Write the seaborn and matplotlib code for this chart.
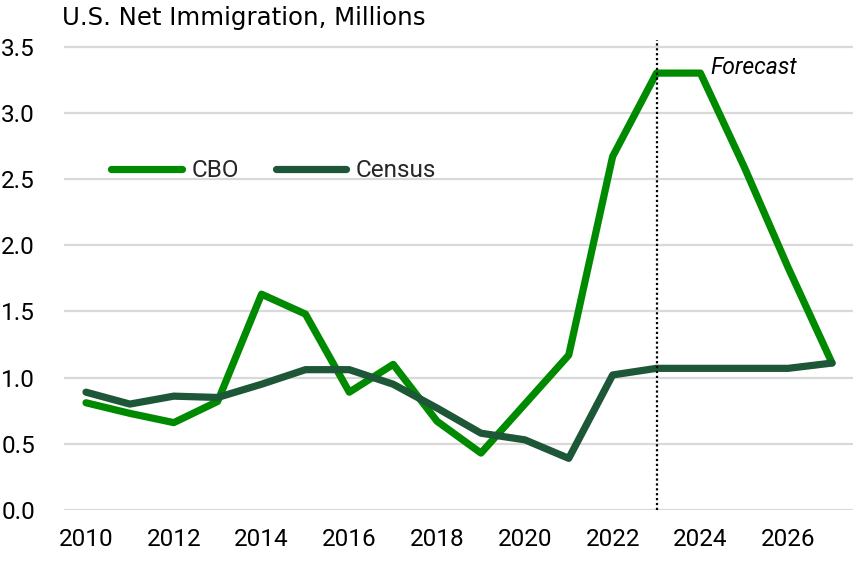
import matplotlib
matplotlib.use("Agg")
import matplotlib.pyplot as plt
import seaborn as sns
import pandas as pd

years = list(range(2010, 2028))
cbo = [0.81, 0.73, 0.66, 0.82, 1.63, 1.48, 0.89, 1.10, 0.67, 0.43, 0.80, 1.17, 2.67, 3.30, 3.30, 2.59, 1.83, 1.11]
census = [0.89, 0.80, 0.86, 0.85, 0.95, 1.06, 1.06, 0.95, 0.77, 0.58, 0.53, 0.39, 1.02, 1.07, 1.07, 1.07, 1.07, 1.11]
series_names = ["CBO", "Census"]
colors = {"CBO": "#008A00", "Census": "#1E5638"}
title = "U.S. Net Immigration, Millions"
forecast_year = 2023
forecast_label = "Forecast"
yticks = [0.0, 0.5, 1.0, 1.5, 2.0, 2.5, 3.0, 3.5]
xticks = list(range(2010, 2027, 2))

df = pd.DataFrame({
    "year": years * 2,
    "value": cbo + census,
    "series": ["CBO"] * len(years) + ["Census"] * len(years),
})

sns.set_theme(style="white")
plt.rcParams["font.family"] = ["Roboto", "DejaVu Sans"]

fig = plt.figure(figsize=(8.54, 5.61), dpi=100)
ax = fig.add_axes([0.075, 0.0909, 0.925, 0.8378])

for y in yticks:
    ax.axhline(y, color="#D9D9D9", lw=1.6, zorder=0)

sns.lineplot(data=df, x="year", y="value", hue="series", hue_order=series_names,
             palette=colors, linewidth=5.2, ax=ax, legend=True, zorder=3)
for line in ax.get_lines():
    line.set_solid_capstyle("round")
    line.set_solid_joinstyle("round")

ax.axvline(forecast_year, color="black", lw=1.6, ls=(0, (1, 1.2)), zorder=4)
ax.text(forecast_year + 1.22, 3.34, forecast_label, fontstyle="italic", fontsize=16.5,
        ha="left", va="center", color="black")

ax.set_xlim(2009.5, 2027.5)
ax.set_ylim(0, 3.55)
ax.set_xticks(xticks)
ax.set_yticks(yticks)
ax.set_yticklabels([f"{v:.1f}" for v in yticks])
ax.set_xlabel("")
ax.set_ylabel("")
ax.tick_params(axis="both", length=0, labelsize=17.5, colors="black")
ax.tick_params(axis="x", pad=13)
ax.tick_params(axis="y", pad=21)
for s in ax.spines.values():
    s.set_visible(False)

handles, labels = ax.get_legend_handles_labels()
for h in handles:
    h.set_linewidth(5.2)
    h.set_solid_capstyle("round")
leg = ax.legend(handles, labels, ncol=2, frameon=False, loc="center left",
                bbox_to_anchor=(0.060, 0.722), borderaxespad=0, borderpad=0,
                handlelength=2.9, handletextpad=0.4, columnspacing=1.5,
                fontsize=17.5)

fig.text(62 / 854, 1 - 18 / 561, title, fontsize=17.6, ha="left", va="center",
         color="black", family=["DejaVu Sans"])

fig.savefig("out.png", dpi=100)
